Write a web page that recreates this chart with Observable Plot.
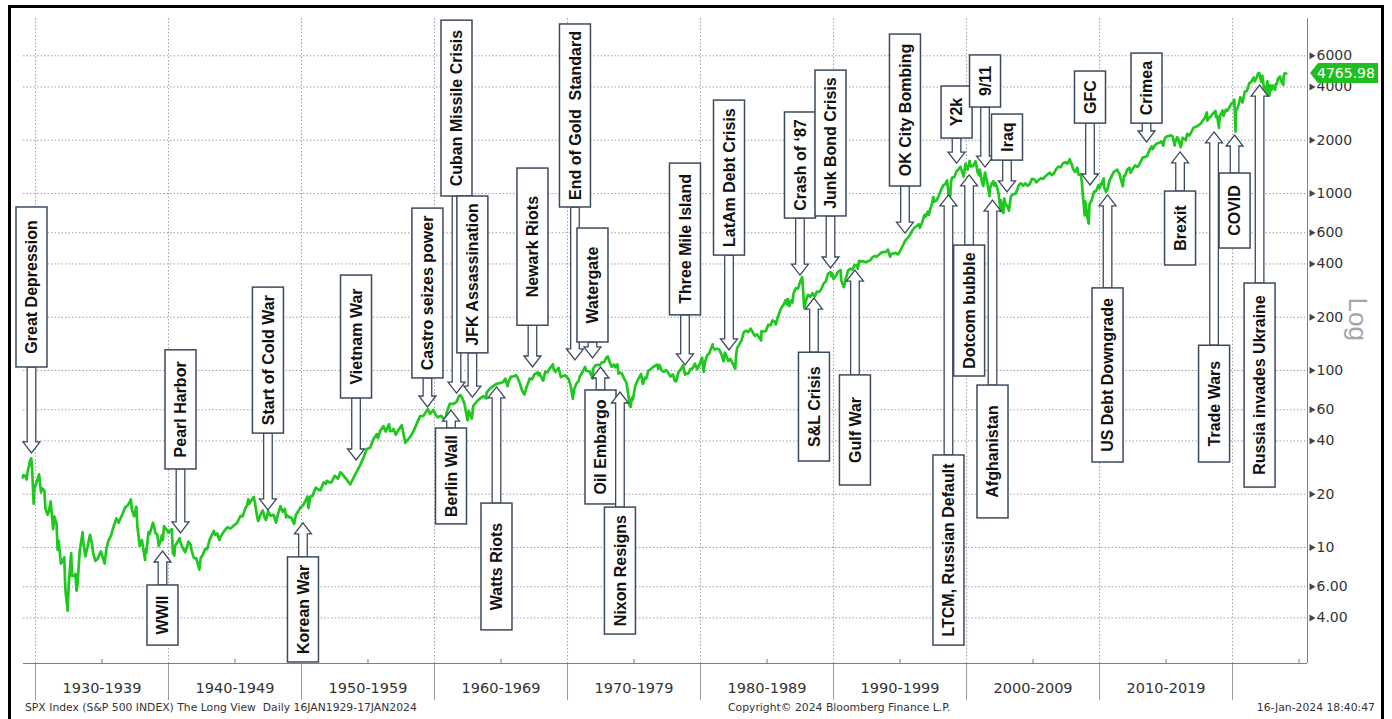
<!DOCTYPE html>
<html><head><meta charset="utf-8">
<script src="https://cdn.jsdelivr.net/npm/d3@7"></script>
<script src="https://cdn.jsdelivr.net/npm/@observablehq/plot@0.6"></script>
<style>
html,body{margin:0;padding:0;overflow:hidden;background:#fff;width:1392px;height:719px}
#chart{position:absolute;left:0;top:0}
#frame{position:absolute;left:8px;top:5px;width:1376px;height:780px;border:3.5px solid #000;box-sizing:border-box;pointer-events:none}
.foot{position:absolute;top:701px;font-family:"DejaVu Sans",Verdana,sans-serif;font-size:10.8px;line-height:13px;color:#333;white-space:pre}
svg g[aria-label^="x-axis"]{color:#9a9a9a}
</style></head><body>
<div id="chart"></div>
<div class="foot" style="left:25px">SPX Index (S&amp;P 500 INDEX) The Long View  Daily 16JAN1929-17JAN2024</div>
<div class="foot" style="left:728px">Copyright© 2024 Bloomberg Finance L.P.</div>
<div class="foot" style="right:17px">16-Jan-2024 18:40:47</div>
<div id="frame"></div>
<script>
// ---------- S&P 500 series ----------
const spxDates = [
"1929-01-16","1929-02","1929-03","1929-04","1929-05","1929-06","1929-07","1929-08","1929-09-07","1929-10-01","1929-10-29","1929-11-13","1929-12",
"1930-02","1930-04-10","1930-06","1930-07","1930-09","1930-10","1930-12",
"1931-01","1931-02-24","1931-04","1931-05","1931-06","1931-08","1931-09","1931-10","1931-12",
"1932-01","1932-03","1932-04","1932-06-01","1932-07","1932-09-07","1932-10","1932-12",
"1933-01","1933-02","1933-03","1933-05","1933-07-18","1933-08","1933-10","1933-12",
"1934-02-06","1934-04","1934-05","1934-07","1934-09","1934-12",
"1935-03-14","1935-05","1935-07","1935-09","1935-11","1935-12",
"1936-02","1936-04","1936-06","1936-08","1936-10","1936-12",
"1937-02","1937-03-06","1937-04","1937-06","1937-08","1937-09","1937-10","1937-11","1937-12",
"1938-01","1938-03-31","1938-04","1938-05","1938-07","1938-08","1938-10","1938-11","1938-12",
"1939-01","1939-03","1939-04-08","1939-06","1939-07","1939-08","1939-09","1939-10","1939-12",
"1940-01","1940-04","1940-05","1940-06-10","1940-07","1940-09","1940-11","1940-12",
"1941-02","1941-04","1941-06","1941-07","1941-09","1941-10","1941-12",
"1942-02","1942-04-28","1942-06","1942-08","1942-10","1942-12",
"1943-02","1943-04","1943-06","1943-07","1943-09","1943-11","1943-12",
"1944-03","1944-06","1944-09","1944-12",
"1945-03","1945-06","1945-08","1945-10","1945-12",
"1946-01","1946-02","1946-05-29","1946-07","1946-09","1946-10","1946-12",
"1947-02","1947-04","1947-05","1947-07","1947-09","1947-12",
"1948-02","1948-04","1948-06","1948-08","1948-10","1948-11","1948-12",
"1949-02","1949-04","1949-06-13","1949-08","1949-10","1949-12",
"1950-02","1950-04","1950-06-12","1950-07-13","1950-09","1950-11","1950-12",
"1951-02","1951-03","1951-06","1951-09","1951-11","1951-12",
"1952-02","1952-04","1952-07","1952-10","1952-12",
"1953-01","1953-04","1953-06","1953-09","1953-12",
"1954-03","1954-06","1954-09","1954-12",
"1955-03","1955-06","1955-09","1955-10","1955-12",
"1956-03","1956-05","1956-08-02","1956-09","1956-11","1956-12",
"1957-02","1957-04","1957-07-15","1957-10-22","1957-12",
"1958-03","1958-06","1958-09","1958-12",
"1959-03","1959-07","1959-09","1959-12",
"1960-02","1960-04","1960-07","1960-10-25","1960-12",
"1961-03","1961-06","1961-09","1961-11","1961-12-12",
"1962-02","1962-04","1962-06-26","1962-08","1962-10-23","1962-12",
"1963-03","1963-06","1963-09","1963-11-22","1963-12",
"1964-03","1964-06","1964-09","1964-12",
"1965-03","1965-05","1965-06-28","1965-08","1965-10","1965-12",
"1966-02-09","1966-04","1966-06","1966-08","1966-10-07","1966-12",
"1967-03","1967-05","1967-07","1967-09-25","1967-11","1967-12",
"1968-02","1968-03-05","1968-05","1968-07","1968-09","1968-11-29","1968-12",
"1969-02","1969-05","1969-07","1969-09","1969-11","1969-12",
"1970-02","1970-04","1970-05-26","1970-07","1970-09","1970-11","1970-12",
"1971-02","1971-04-28","1971-06","1971-08","1971-09","1971-11-23","1971-12",
"1972-02","1972-04","1972-06","1972-08","1972-10","1972-12",
"1973-01-11","1973-03","1973-05","1973-07","1973-08","1973-10","1973-11","1973-12",
"1974-02","1974-04","1974-06","1974-07","1974-08","1974-09","1974-10-03","1974-11","1974-12",
"1975-02","1975-04","1975-07-15","1975-09","1975-11","1975-12",
"1976-02","1976-04","1976-06","1976-09-21","1976-11","1976-12",
"1977-02","1977-04","1977-06","1977-08","1977-10","1977-12",
"1978-02","1978-03-06","1978-05","1978-08","1978-09-12","1978-11","1978-12",
"1979-02","1979-04","1979-06","1979-08","1979-10","1979-12",
"1980-02-13","1980-03-27","1980-05","1980-07","1980-09","1980-11-28","1980-12",
"1981-02","1981-04","1981-06","1981-08","1981-09-25","1981-11","1981-12",
"1982-02","1982-04","1982-06","1982-08-12","1982-09","1982-10","1982-12",
"1983-02","1983-04","1983-06","1983-08","1983-10-10","1983-12",
"1984-02","1984-04","1984-06","1984-07-24","1984-08","1984-10","1984-12",
"1985-02","1985-04","1985-06","1985-08","1985-09","1985-11","1985-12",
"1986-02","1986-04","1986-06","1986-07","1986-08","1986-09","1986-11","1986-12",
"1987-01","1987-03","1987-05","1987-07","1987-08-25","1987-09","1987-10-19","1987-11","1987-12",
"1988-02","1988-04","1988-06","1988-08","1988-10","1988-12",
"1989-02","1989-04","1989-06","1989-08","1989-10-09","1989-10-31","1989-12",
"1990-01","1990-03","1990-05","1990-07-16","1990-08","1990-10-11","1990-12",
"1991-01","1991-02","1991-04","1991-06","1991-08","1991-10","1991-11","1991-12",
"1992-02","1992-04","1992-06","1992-08","1992-10","1992-12",
"1993-02","1993-04","1993-06","1993-08","1993-10","1993-12",
"1994-02-02","1994-04-04","1994-05","1994-07","1994-09","1994-11","1994-12",
"1995-02","1995-04","1995-06","1995-08","1995-10","1995-12",
"1996-02","1996-04","1996-06","1996-07","1996-09","1996-11","1996-12",
"1997-02","1997-03","1997-04","1997-06","1997-07","1997-08","1997-10","1997-12",
"1998-02","1998-04","1998-06","1998-07-17","1998-08-31","1998-10-08","1998-11","1998-12",
"1999-02","1999-04","1999-06","1999-07-16","1999-10-15","1999-12",
"2000-01","2000-02","2000-03-24","2000-05","2000-07","2000-09-01","2000-10","2000-11","2000-12-20","2000-12-31",
"2001-01","2001-03","2001-04-04","2001-05-21","2001-07","2001-08","2001-09-21","2001-10","2001-12",
"2002-01-04","2002-02","2002-03","2002-05","2002-06","2002-07-23","2002-08","2002-09","2002-10-09","2002-11","2002-12",
"2003-02","2003-03-11","2003-05","2003-07","2003-09","2003-11","2003-12",
"2004-02","2004-04","2004-06","2004-08","2004-10","2004-12",
"2005-02","2005-04","2005-06","2005-08","2005-10","2005-12",
"2006-02","2006-04","2006-06","2006-08","2006-10","2006-12",
"2007-02","2007-04","2007-06","2007-08","2007-10-09","2007-11","2007-12",
"2008-01","2008-03","2008-05","2008-06","2008-08","2008-09","2008-10","2008-11-20","2008-12",
"2009-01","2009-02","2009-03-09","2009-04","2009-06","2009-08","2009-10","2009-12",
"2010-01","2010-04-23","2010-05","2010-07-02","2010-08","2010-10","2010-12",
"2011-02","2011-04-29","2011-06","2011-07","2011-08","2011-10-03","2011-10-31","2011-12",
"2012-02","2012-04","2012-05","2012-07","2012-09","2012-11","2012-12",
"2013-02","2013-04","2013-06","2013-08","2013-10","2013-12",
"2014-01","2014-03","2014-05","2014-07","2014-09","2014-10-15","2014-12",
"2015-02","2015-05-21","2015-07","2015-08-25","2015-09","2015-11","2015-12",
"2016-01","2016-02-11","2016-04","2016-06-27","2016-08","2016-10","2016-12",
"2017-02","2017-04","2017-06","2017-08","2017-10","2017-12",
"2018-01-26","2018-02-08","2018-03","2018-05","2018-07","2018-09-20","2018-10","2018-11","2018-12-24","2018-12-31",
"2019-02","2019-04","2019-05","2019-07","2019-08","2019-09","2019-11","2019-12",
"2020-01","2020-02-19","2020-03-23","2020-04","2020-06","2020-08","2020-10","2020-12",
"2021-02","2021-04","2021-06","2021-08","2021-09","2021-11","2021-12",
"2022-01-03","2022-01-31","2022-02-24","2022-03-29","2022-05","2022-06-16","2022-08-16","2022-09","2022-10-12","2022-11","2022-12",
"2023-01","2023-02","2023-03-13","2023-04","2023-05","2023-06","2023-07-31","2023-08","2023-09","2023-10-27","2023-11","2023-12",
"2024-01-16"
];
const spxValues = [
24.9,25.6,25.2,25.5,24.2,27.0,28.5,30.8,31.9,27.9,20.4,17.7,21.5,
23.4,25.9,20.5,21.6,21.0,16.6,15.3,
15.9,18.2,14.8,12.7,15.0,13.7,9.7,10.9,8.1,
8.3,8.8,5.8,4.4,6.1,9.3,6.9,6.9,
7.1,5.7,6.2,9.6,12.2,10.9,8.9,10.1,
11.8,10.5,9.4,8.4,8.6,9.5,
8.1,9.8,11.0,11.6,12.8,13.4,
14.6,13.8,14.7,15.7,16.9,17.2,
18.1,18.7,16.4,15.0,17.0,13.0,11.7,10.2,10.5,
11.0,8.5,9.7,9.3,12.2,11.9,13.1,13.8,13.2,
12.1,11.8,10.2,10.9,11.7,11.0,13.2,12.9,12.5,
12.1,12.7,9.3,9.0,10.2,10.7,11.3,10.6,
9.9,9.4,10.2,10.8,10.4,9.5,8.7,
8.7,7.5,8.7,9.1,9.8,9.8,
11.0,11.7,12.4,11.8,12.0,11.0,11.5,
12.3,13.0,12.8,13.3,
13.8,15.1,15.0,16.4,17.4,
18.7,17.7,19.3,18.0,14.9,14.1,15.3,
16.2,14.6,14.3,16.0,15.1,15.3,
13.8,15.6,17.1,15.9,16.5,14.8,15.2,
14.8,14.7,13.6,15.3,16.0,16.8,
17.2,18.0,19.4,16.7,19.4,19.5,20.4,
21.8,21.5,21.0,23.3,22.9,23.8,
23.3,23.3,25.4,24.5,26.6,
26.4,25.0,24.1,22.7,24.8,
26.9,29.2,32.3,36.0,
36.6,41.0,43.7,41.5,45.5,
48.5,45.2,49.7,45.4,45.6,46.7,
43.3,45.7,49.1,39.0,40.0,
42.1,45.2,50.1,55.2,
55.4,60.5,56.9,59.9,
56.1,54.4,55.5,52.3,58.1,
65.1,64.6,66.7,71.3,72.6,
69.9,65.2,52.3,59.1,53.5,63.1,
66.6,69.4,71.7,69.6,75.0,
78.9,81.7,84.2,84.8,
86.2,90.0,81.6,87.2,92.4,92.4,
94.1,91.1,84.7,77.1,73.2,80.3,
90.2,89.1,94.8,97.6,94.0,96.5,
89.4,87.7,98.7,97.7,102.7,108.4,103.9,
98.1,103.5,91.8,93.1,94.0,92.1,
89.5,81.5,69.3,78.0,84.3,87.2,92.2,
96.8,104.8,99.7,99.0,98.3,90.2,102.1,
106.6,107.7,107.1,111.1,111.6,118.1,
120.2,111.5,104.9,108.2,104.3,108.3,96.0,97.6,
96.2,90.3,86.0,79.3,72.2,63.5,62.3,70.0,68.6,
81.6,87.3,95.6,83.9,91.2,90.2,
99.7,101.6,104.3,107.8,102.1,107.5,
99.8,98.4,100.5,96.8,92.3,95.1,
87.0,86.9,97.3,103.3,107.0,94.7,96.1,
96.3,101.8,102.9,109.3,101.8,107.9,
118.4,98.2,111.2,121.7,125.5,140.5,135.8,
131.3,132.8,131.2,122.8,112.8,126.4,122.6,
113.1,116.4,109.6,102.4,120.4,133.7,140.6,
148.1,164.4,168.1,164.4,172.6,164.9,
157.1,160.1,153.2,147.8,166.7,166.1,167.2,
181.2,179.8,191.9,188.6,182.1,202.2,211.3,
226.9,235.5,250.8,236.1,252.9,231.3,249.2,242.2,
274.1,291.7,290.1,318.7,336.8,321.8,224.8,230.3,247.1,
267.8,261.3,273.5,261.5,279.0,277.7,
288.9,309.6,318.0,351.5,359.8,340.4,353.4,
329.1,339.9,361.2,369.0,322.6,295.5,330.2,
343.9,367.1,375.3,371.2,395.4,392.5,375.2,417.1,
412.7,414.9,408.1,414.0,418.7,435.7,
443.4,440.2,450.5,463.6,467.8,466.5,
482.0,438.9,456.5,458.3,462.7,453.7,459.3,
487.4,514.7,544.8,561.9,581.5,615.9,
640.4,654.2,670.6,639.9,687.3,757.0,740.7,
790.8,757.1,801.3,885.1,954.3,899.5,914.6,970.4,
1049.3,1111.8,1133.8,1186.8,957.3,959.4,1163.6,1229.2,
1238.3,1335.2,1372.7,1418.8,1247.4,1469.3,
1394.5,1366.4,1527.5,1420.6,1430.8,1520.8,1429.4,1315.2,1264.7,1320.3,
1366.0,1160.3,1103.3,1312.8,1211.2,1133.6,965.8,1059.8,1148.1,
1172.5,1106.7,1147.4,1067.1,989.8,797.7,916.1,815.3,776.8,936.3,879.8,
841.2,800.7,963.6,990.3,996.0,1058.2,1111.9,
1144.9,1107.3,1140.8,1104.2,1130.2,1211.9,
1203.6,1156.8,1191.3,1220.3,1207.0,1248.3,
1280.7,1310.6,1270.2,1303.8,1377.9,1418.3,
1406.8,1482.4,1503.4,1474.0,1565.2,1481.1,1468.4,
1378.6,1322.7,1400.4,1280.0,1282.8,1166.4,968.8,752.4,903.3,
825.9,735.1,676.5,872.8,919.3,1020.6,1036.2,1115.1,
1073.9,1217.3,1089.4,1022.6,1049.3,1183.3,1257.6,
1327.2,1363.6,1320.6,1292.3,1218.9,1099.2,1253.3,1257.6,
1365.7,1397.9,1310.3,1379.3,1440.7,1416.2,1426.2,
1514.7,1597.6,1606.3,1633.0,1756.5,1848.4,
1782.6,1872.3,1923.6,1930.7,1972.3,1862.5,2058.9,
2104.5,2130.8,2103.8,1867.6,1920.0,2080.4,2043.9,
1940.2,1829.1,2065.3,2000.5,2171.0,2126.2,2238.8,
2363.6,2384.2,2423.4,2471.7,2575.3,2673.6,
2872.9,2581.0,2640.9,2705.3,2816.3,2930.8,2711.7,2760.2,2351.1,2506.9,
2784.5,2945.8,2752.1,2980.4,2926.5,2976.7,3141.0,3230.8,
3225.5,3386.2,2237.4,2912.4,3100.3,3500.3,3270.0,3756.1,
3811.2,4181.2,4297.5,4522.7,4307.5,4567.0,4766.2,
4796.6,4515.6,4288.7,4631.6,4132.2,3666.8,4305.2,3585.6,3577.0,4080.1,3839.5,
4076.6,3970.2,3855.8,4169.5,4179.8,4450.4,4589.0,4507.7,4288.1,4117.4,4567.8,4769.8,
4765.98
];

// ---------- axes ----------
const xStart = "1929-02-06";
const xEnd = "2025-08-20";
const yMin = 2.21, yMax = 9750;
const yTickValues = [4, 6, 10, 20, 40, 60, 100, 200, 400, 600, 1000, 2000, 4000, 6000];
const yTickLabels = ["4.00","6.00","10","20","40","60","100","200","400","600","1000","2000","4000","6000"];
const decadeStarts = ["1930-01-01","1940-01-01","1950-01-01","1960-01-01","1970-01-01","1980-01-01","1990-01-01","2000-01-01","2010-01-01","2020-01-01"];
const decadeMids = ["1935-01-01","1945-01-01","1955-01-01","1965-01-01","1975-01-01","1985-01-01","1995-01-01","2005-01-01","2015-01-01","2025-01-01"];
const decadeLabels = ["1930-1939","1940-1949","1950-1959","1960-1969","1970-1979","1980-1989","1990-1999","2000-2009","2010-2019"];
const lastValue = 4765.98;

// ---------- event annotations (date, arrow tip price, box near-edge price, box far-edge price) ----------
const eventLabels = ["Great Depression","WWII","Pearl Harbor","Start of Cold War","Korean War","Vietnam War",
 "Castro seizes power","Berlin Wall","Cuban Missile Crisis","JFK Assassination","Watts Riots","Newark Riots",
 "End of Gold  Standard","Watergate","Oil Embargo","Nixon Resigns","Three Mile Island","LatAm Debt Crisis",
 "Crash of ‘87","S&L Crisis","Junk Bond Crisis","Gulf War","OK City Bombing","LTCM, Russian Default",
 "Y2k","Dotcom bubble","9/11","Afghanistan","Iraq","GFC","US Debt Downgrade","Crimea","Brexit",
 "Trade Wars","COVID","Russia invades Ukraine"];
const eventDates = ["1929-09-27","1939-08-03","1940-12-10","1947-07-08","1950-02-24","1954-02-20",
 "1959-07-05","1961-04-12","1961-09-10","1962-11-20","1964-09-12","1967-05-28",
 "1970-08-07","1971-12-01","1972-07-08","1973-12-24","1978-11-14","1982-03-07",
 "1987-07-08","1988-07-26","1989-10-23","1991-08-25","1995-05-30","1998-09-05",
 "1999-04-16","2000-03-25","2001-06-06","2001-12-28","2003-01-30","2009-04-27","2010-08-22","2013-07-27","2016-02-03",
 "2018-08-25","2020-03-10","2022-01-26"];
const eventTips = [34.0,9.49,12.0,16.2,13.7,31.0,
 61.8,59.4,74.1,70.3,80.2,104,
 114,117,104,75.1,107,130,
 344,255,377,367,594,975,
 1476,1265,1402,912,1014,1110,975,1942,1706,
 2214,2128,4074];
const eventBoxNear = [104,6.10,27.6,44,8.79,69.5,
 90.2,47,962,125,17.7,179,
 834,144,77.1,16.8,205,446,
 722,126,742,93.8,1096,33.1,
 2045,508,3062,82.2,1535,2483,291,2483,1026,
 138,1297,310];
const eventBoxFar = [834,2.79,130,294,2.24,344,
 822,13.5,9480,962,3.40,1384,
 9020,634,17.5,3.22,1476,3350,
 2870,30.6,4950,22.4,7910,2.79,
 4024,92.5,6030,14.6,2794,4890,30.2,6180,392,
 30.2,489,21.8];

// ---------- build ----------
const parse = s => new Date(s);
const spx = spxDates.map((d, i) => ({date: parse(d), close: spxValues[i]})).sort((a, b) => a.date - b.date);

const plot = Plot.plot({
  width: 1392, height: 700,
  marginLeft: 23, marginRight: 85, marginTop: 18, marginBottom: 37,
  style: {fontFamily: "'DejaVu Sans', Verdana, sans-serif", fontSize: "14px", color: "#333", background: "none", overflow: "visible"},
  x: {type: "utc", domain: [parse(xStart), parse(xEnd)], ticks: decadeStarts.map(parse), tickSize: 37, tickFormat: () => "", label: null},
  y: {type: "log", domain: [yMin, yMax], axis: null},
  marks: [
    Plot.ruleY(yTickValues, {stroke: "#a0a0a0", strokeDasharray: "1.5,2"}),
    Plot.ruleX(decadeStarts.map(parse), {stroke: "#a0a0a0", strokeDasharray: "1.5,2"}),
    Plot.ruleX(decadeMids.map(parse), {stroke: "#777", insetTop: 641}),
    Plot.ruleY([yMin], {stroke: "#808080"}),
    Plot.ruleX([parse(xEnd)], {stroke: "#808080"}),
    Plot.dot(yTickValues, {y: d => d, frameAnchor: "right", symbol: "triangle", rotate: 90, r: 2.6, dx: 4, fill: "#444", stroke: "none"}),
    Plot.text(yTickValues, {y: d => d, text: (d, i) => yTickLabels[i], frameAnchor: "right", dx: 9, textAnchor: "start", fill: "#333", fontSize: 14}),
    Plot.text(decadeLabels, {x: (d, i) => parse(decadeMids[i]), text: d => d, frameAnchor: "bottom", dy: 29, fill: "#333", fontSize: 14.5}),
    Plot.text(["Log"], {frameAnchor: "right", dx: 50, rotate: 90, fill: "#a6a6a6", fontSize: 26, fontFamily: "'Liberation Sans', Arial, sans-serif"}),
    Plot.line(spx, {x: "date", y: "close", stroke: "#1ec81e", strokeWidth: 2.7})
  ]
});
document.getElementById("chart").append(plot);

const svg = plot.tagName.toLowerCase() === "svg" ? plot : plot.querySelector("svg");
const sx = plot.scale("x"), sy = plot.scale("y");
const X = sx.apply ? v => sx.apply(v) : d3.scaleUtc(sx.domain, sx.range);
const Y = sy.apply ? v => sy.apply(v) : d3.scaleLog(sy.domain, sy.range);

const dark = "#3c4a5e";
const g = d3.select(svg).append("g").attr("aria-label", "event annotations");
eventLabels.forEach((label, i) => {
  const x = X(parse(eventDates[i]));
  const yt = Y(eventTips[i]), yn = Y(eventBoxNear[i]), yf = Y(eventBoxFar[i]);
  const s = yt > yn ? 1 : -1;
  const hb = yt - s * 11;
  const hw = 8.5, sw = 4.3;
  g.append("path")
    .attr("d", `M${x},${yt}L${x + hw},${hb}L${x + sw},${hb}L${x + sw},${yn}L${x - sw},${yn}L${x - sw},${hb}L${x - hw},${hb}Z`)
    .attr("fill", "#fff").attr("stroke", dark).attr("stroke-width", 1.3);
  g.append("rect")
    .attr("x", x - 15.5).attr("y", Math.min(yn, yf)).attr("width", 31).attr("height", Math.abs(yf - yn))
    .attr("fill", "#fff").attr("stroke", dark).attr("stroke-width", 1.5);
  g.append("text")
    .attr("transform", `translate(${x},${(yn + yf) / 2}) rotate(-90)`)
    .attr("text-anchor", "middle").attr("dy", "0.36em")
    .attr("font-family", "'Liberation Sans', Arial, sans-serif").attr("font-size", 16).attr("font-weight", "bold")
    .attr("fill", "#111").style("white-space", "pre")
    .text(label);
});

// last value tag
const xr = X(parse(xEnd)) + 3, yl = Y(lastValue);
const tag = d3.select(svg).append("g").attr("aria-label", "last value");
tag.append("path")
  .attr("d", `M${xr},${yl}L${xr + 8},${yl - 10}L${xr + 68},${yl - 10}L${xr + 68},${yl + 10}L${xr + 8},${yl + 10}Z`)
  .attr("fill", "#1fbf1f");
tag.append("text").attr("x", xr + 7).attr("y", yl).attr("dy", "0.36em").attr("text-anchor", "start")
  .attr("font-family", "'DejaVu Sans', Verdana, sans-serif").attr("font-size", 14).attr("fill", "#fff")
  .text(lastValue.toFixed(2));
</script>
</body></html>
